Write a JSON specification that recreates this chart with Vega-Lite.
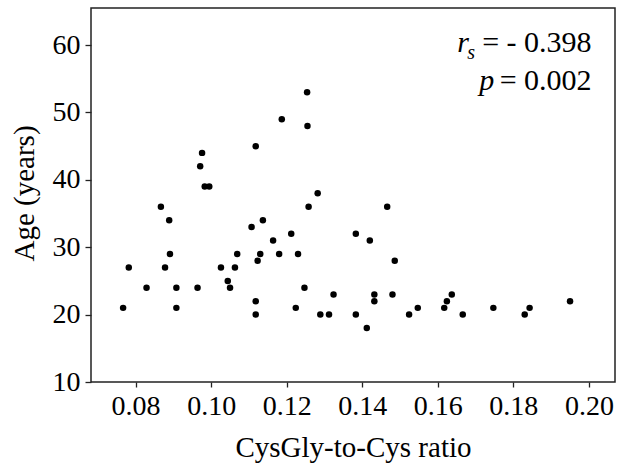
{
  "$schema": "https://vega.github.io/schema/vega-lite/v6.json",
  "width": 524,
  "height": 374,
  "autosize": {"type": "none"},
  "padding": {"left": 91, "top": 8, "right": 4, "bottom": 86},
  "background": "white",
  "config": {
    "font": "Liberation Serif",
    "view": {"stroke": "#222222", "strokeWidth": 1.5},
    "axis": {
      "grid": false,
      "domain": false,
      "tickColor": "#222222",
      "tickWidth": 1.3,
      "labelColor": "black",
      "titleColor": "black",
      "labelFont": "Liberation Serif",
      "titleFont": "Liberation Serif",
      "titleFontWeight": "normal",
      "labelFlush": false,
      "labelOverlap": false
    }
  },
  "data": {
    "values": [
      {"ratio": 0.0767, "age": 21},
      {"ratio": 0.0782, "age": 27},
      {"ratio": 0.0829, "age": 24},
      {"ratio": 0.0867, "age": 36},
      {"ratio": 0.0889, "age": 34},
      {"ratio": 0.0878, "age": 27},
      {"ratio": 0.0891, "age": 29},
      {"ratio": 0.0908, "age": 24},
      {"ratio": 0.0908, "age": 21},
      {"ratio": 0.0964, "age": 24},
      {"ratio": 0.0983, "age": 39},
      {"ratio": 0.0995, "age": 39},
      {"ratio": 0.0976, "age": 44},
      {"ratio": 0.0971, "age": 42},
      {"ratio": 0.1026, "age": 27},
      {"ratio": 0.1044, "age": 25},
      {"ratio": 0.1050, "age": 24},
      {"ratio": 0.1063, "age": 27},
      {"ratio": 0.1069, "age": 29},
      {"ratio": 0.1107, "age": 33},
      {"ratio": 0.1118, "age": 45},
      {"ratio": 0.1118, "age": 22},
      {"ratio": 0.1118, "age": 20},
      {"ratio": 0.1123, "age": 28},
      {"ratio": 0.1130, "age": 29},
      {"ratio": 0.1137, "age": 34},
      {"ratio": 0.1164, "age": 31},
      {"ratio": 0.1180, "age": 29},
      {"ratio": 0.1187, "age": 49},
      {"ratio": 0.1212, "age": 32},
      {"ratio": 0.1224, "age": 21},
      {"ratio": 0.1230, "age": 29},
      {"ratio": 0.1247, "age": 24},
      {"ratio": 0.1254, "age": 53},
      {"ratio": 0.1255, "age": 48},
      {"ratio": 0.1258, "age": 36},
      {"ratio": 0.1282, "age": 38},
      {"ratio": 0.1289, "age": 20},
      {"ratio": 0.1312, "age": 20},
      {"ratio": 0.1324, "age": 23},
      {"ratio": 0.1383, "age": 32},
      {"ratio": 0.1383, "age": 20},
      {"ratio": 0.1412, "age": 18},
      {"ratio": 0.1420, "age": 31},
      {"ratio": 0.1432, "age": 23},
      {"ratio": 0.1432, "age": 22},
      {"ratio": 0.1466, "age": 36},
      {"ratio": 0.1480, "age": 23},
      {"ratio": 0.1486, "age": 28},
      {"ratio": 0.1524, "age": 20},
      {"ratio": 0.1547, "age": 21},
      {"ratio": 0.1617, "age": 21},
      {"ratio": 0.1624, "age": 22},
      {"ratio": 0.1637, "age": 23},
      {"ratio": 0.1666, "age": 20},
      {"ratio": 0.1747, "age": 21},
      {"ratio": 0.1830, "age": 20},
      {"ratio": 0.1843, "age": 21},
      {"ratio": 0.1950, "age": 22}
    ]
  },
  "layer": [
    {
      "mark": {"type": "point", "filled": true, "shape": "circle", "color": "black", "opacity": 1, "size": 42},
      "encoding": {
        "x": {
          "field": "ratio",
          "type": "quantitative",
          "scale": {"domain": [0.0682, 0.2069], "nice": false, "zero": false},
          "axis": {
            "values": [0.08, 0.10, 0.12, 0.14, 0.16, 0.18, 0.20],
            "format": ".2f",
            "labelFontSize": 28,
            "tickSize": 5,
            "labelBaseline": "alphabetic",
            "labelPadding": 27,
            "title": "CysGly-to-Cys ratio",
            "titleFontSize": 29,
            "titleBaseline": "alphabetic",
            "titleY": 74
          }
        },
        "y": {
          "field": "age",
          "type": "quantitative",
          "scale": {"domain": [10, 65.5], "nice": false, "zero": false},
          "axis": {
            "values": [10, 20, 30, 40, 50, 60],
            "labelFontSize": 28,
            "tickSize": 6,
            "labelPadding": 5,
            "title": "Age (years)",
            "titleFontSize": 29,
            "titleBaseline": "alphabetic",
            "titleAlign": "center",
            "titleX": -57.5,
            "titleY": 185
          }
        }
      }
    },
    {
      "data": {"values": [{}]},
      "mark": {"type": "text", "font": "Liberation Serif", "fontStyle": "italic", "fontSize": 30, "align": "left", "baseline": "alphabetic", "color": "black"},
      "encoding": {
        "x": {"datum": 0.16512, "type": "quantitative"},
        "y": {"datum": 59.01, "type": "quantitative"},
        "text": {"value": "r"}
      }
    },
    {
      "data": {"values": [{}]},
      "mark": {"type": "text", "font": "Liberation Serif", "fontStyle": "italic", "fontSize": 20, "align": "left", "baseline": "alphabetic", "color": "black"},
      "encoding": {
        "x": {"datum": 0.16782, "type": "quantitative"},
        "y": {"datum": 57.9, "type": "quantitative"},
        "text": {"value": "s"}
      }
    },
    {
      "data": {"values": [{}]},
      "mark": {"type": "text", "font": "Liberation Serif", "fontSize": 30, "align": "right", "baseline": "alphabetic", "color": "black"},
      "encoding": {
        "x": {"datum": 0.2007, "type": "quantitative"},
        "y": {"datum": 59.01, "type": "quantitative"},
        "text": {"value": "= - 0.398"}
      }
    },
    {
      "data": {"values": [{}]},
      "mark": {"type": "text", "font": "Liberation Serif", "fontStyle": "italic", "fontSize": 30, "align": "left", "baseline": "alphabetic", "color": "black"},
      "encoding": {
        "x": {"datum": 0.17100, "type": "quantitative"},
        "y": {"datum": 53.33, "type": "quantitative"},
        "text": {"value": "p"}
      }
    },
    {
      "data": {"values": [{}]},
      "mark": {"type": "text", "font": "Liberation Serif", "fontSize": 30, "align": "right", "baseline": "alphabetic", "color": "black"},
      "encoding": {
        "x": {"datum": 0.2007, "type": "quantitative"},
        "y": {"datum": 53.33, "type": "quantitative"},
        "text": {"value": "= 0.002"}
      }
    }
  ]
}
